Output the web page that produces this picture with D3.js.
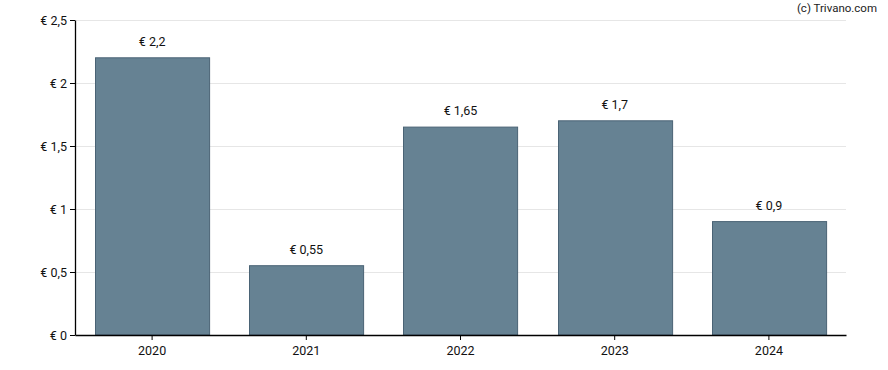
<!DOCTYPE html>
<html>
<head>
<meta charset="utf-8">
<script src="https://cdn.jsdelivr.net/npm/d3@7"></script>
<style>
    body { margin: 0; background: #fff; }
    svg { display: block; font-family: Roboto, "Noto Sans", Arial, sans-serif; }
</style>
</head>
<body>
<div id="chart"></div>
<script>
const years = ["2020", "2021", "2022", "2023", "2024"];
const dividends = [2.2, 0.55, 1.65, 1.7, 0.9];
const yTicks = [0, 0.5, 1, 1.5, 2, 2.5];

const fmt = v => "€ " + String(v).replace(".", ",");

const margin = { top: 20, right: 42, bottom: 35, left: 75 };
const width = 888 - margin.left - margin.right;
const height = 370 - margin.top - margin.bottom;

const svg = d3.select("#chart")
    .append("svg")
    .attr("width", 888)
    .attr("height", 370);

svg.append("text")
    .attr("x", 877)
    .attr("y", 12)
    .attr("text-anchor", "end")
    .style("font-size", "11.5px")
    .style("fill", "#222")
    .text("(c) Trivano.com");

const g = svg.append("g")
    .attr("transform", `translate(${margin.left},${margin.top})`);

const x = d3.scaleBand().domain(years).range([0, width]).paddingInner(0.26).paddingOuter(0.13);
const y = d3.scaleLinear().domain([0, 2.5]).range([height, 0]);

// gridlines
g.selectAll(".grid")
    .data(yTicks.slice(1))
    .enter().append("line")
    .attr("class", "grid")
    .attr("x1", 0)
    .attr("x2", width)
    .attr("y1", d => Math.round(y(d)) + 0.5)
    .attr("y2", d => Math.round(y(d)) + 0.5)
    .attr("stroke", "#e6e6e6")
    .attr("stroke-width", 1);

// bars
g.selectAll(".bar")
    .data(years)
    .enter().append("rect")
    .attr("class", "bar")
    .attr("x", (d) => Math.round(x(d)) + 0.5)
    .attr("width", x.bandwidth())
    .attr("y", (d, i) => y(dividends[i]))
    .attr("height", (d, i) => height - y(dividends[i]))
    .attr("fill", "#668293")
    .attr("stroke", "#4a6375")
    .attr("stroke-width", 1);

// value labels
g.selectAll(".bar-label")
    .data(years)
    .enter().append("text")
    .attr("class", "bar-label")
    .attr("x", d => x(d) + x.bandwidth() / 2)
    .attr("y", (d, i) => y(dividends[i]) - 12)
    .attr("text-anchor", "middle")
    .style("font-size", "12.5px")
    .style("fill", "#111")
    .text((d, i) => fmt(dividends[i]));

// axes
const xAxis = g.append("g")
    .attr("transform", `translate(0,${height})`)
    .call(d3.axisBottom(x).tickSize(5).tickSizeOuter(0).tickPadding(6));

const yAxis = g.append("g")
    .call(d3.axisLeft(y).tickValues(yTicks).tickFormat(fmt).tickSize(5).tickSizeOuter(0).tickPadding(3));

[xAxis, yAxis].forEach(a => {
    a.select(".domain").attr("stroke", "#000").attr("stroke-width", 1.3);
    a.selectAll(".tick line").attr("stroke", "#000");
    a.selectAll("text").style("font-size", "12.5px").style("fill", "#111")
        .style("font-family", "Roboto, 'Noto Sans', Arial, sans-serif");
});
</script>
</body>
</html>
